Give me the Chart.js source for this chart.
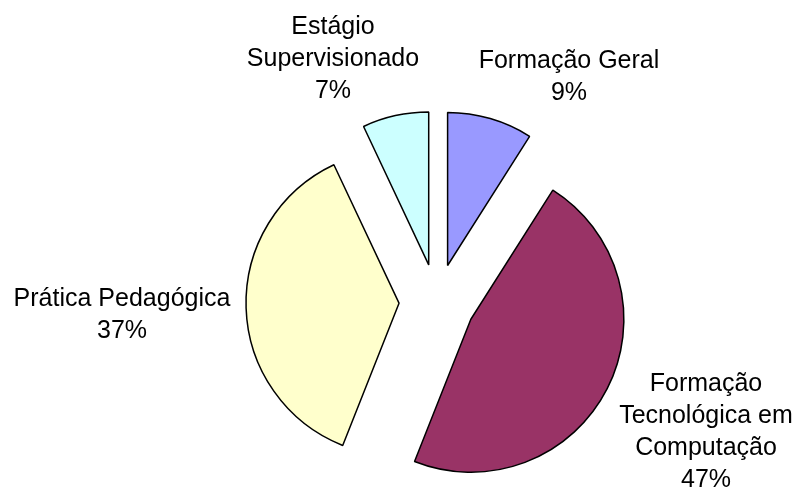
<!DOCTYPE html>
<html>
<head>
<meta charset="utf-8">
<script src="https://cdn.jsdelivr.net/npm/chart.js@4"></script>
<style>
  html, body { margin: 0; padding: 0; background: #ffffff; }
  #wrap { width: 800px; height: 488px; position: relative; }
</style>
</head>
<body>
<div id="wrap"><canvas id="c" width="800" height="488"></canvas></div>
<script>
// ---- data ----
const categories = ['Formação Geral', 'Formação Tecnológica em Computação', 'Prática Pedagógica', 'Estágio Supervisionado'];
const values = [9, 47, 37, 7];               // percent
const labelLines = [
  ['Formação Geral'],
  ['Formação', 'Tecnológica em', 'Computação'],
  ['Prática Pedagógica'],
  ['Estágio', 'Supervisionado']
];

// ---- styles ----
const colors = ['#9999FF', '#993366', '#FFFFCC', '#CCFFFF'];
const EXPLODE = 38;          // px each slice is pulled out
const PIE_RADIUS = 153;
const FONT = '25px "Liberation Sans", Arial, sans-serif';
const LINE_H = 32;
// label anchor relative to pie centre: [dx of text centre, dy of first baseline]
const labelOffsets = [[132, -234], [269, 89], [-315, 4], [-104, -268]];

const explodePlugin = {
  id: 'explode',
  afterDatasetsUpdate(chart) {
    const meta = chart.getDatasetMeta(0);
    meta.data.forEach(arc => {
      const mid = (arc.startAngle + arc.endAngle) / 2;
      arc.x += Math.cos(mid) * EXPLODE;
      arc.y += Math.sin(mid) * EXPLODE;
    });
  }
};

const labelPlugin = {
  id: 'sliceLabels',
  afterDatasetsDraw(chart) {
    const ctx = chart.ctx;
    const a = chart.chartArea;
    const cx = (a.left + a.right) / 2;
    const cy = (a.top + a.bottom) / 2;
    ctx.save();
    ctx.font = FONT;
    ctx.fillStyle = '#000000';
    ctx.textAlign = 'center';
    ctx.textBaseline = 'alphabetic';
    values.forEach((v, i) => {
      const lines = labelLines[i].concat([v + '%']);
      const [dx, dy] = labelOffsets[i];
      lines.forEach((t, j) => {
        ctx.fillText(t, cx + dx, cy + dy + j * LINE_H);
      });
    });
    ctx.restore();
  }
};

new Chart(document.getElementById('c'), {
  type: 'pie',
  data: {
    labels: categories,
    datasets: [{
      data: values,
      backgroundColor: colors,
      borderColor: '#000000',
      borderWidth: 1.5,
      radius: PIE_RADIUS
    }]
  },
  options: {
    responsive: false,
    animation: false,
    events: [],
    layout: { padding: { left: 74, right: 0, top: 116, bottom: 0 } },
    plugins: {
      legend: { display: false },
      tooltip: { enabled: false }
    }
  },
  plugins: [explodePlugin, labelPlugin]
});
</script>
</body>
</html>
